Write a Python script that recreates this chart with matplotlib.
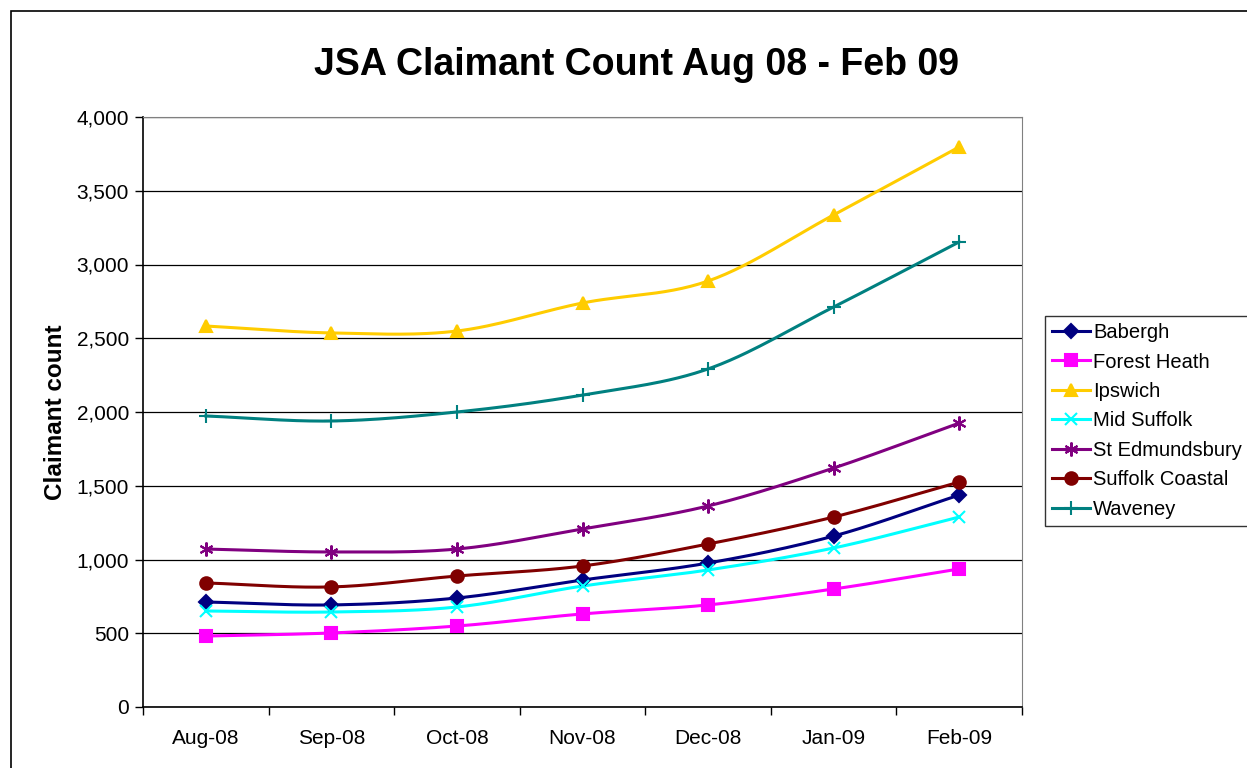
import numpy as np
import matplotlib
matplotlib.use("Agg")
import matplotlib.pyplot as plt
from matplotlib.patches import Rectangle

months = ["Aug-08", "Sep-08", "Oct-08", "Nov-08", "Dec-08", "Jan-09", "Feb-09"]

babergh = [712, 692, 739, 861, 976, 1159, 1437]
forest_heath = [481, 502, 549, 631, 692, 800, 936]
ipswich = [2583, 2536, 2549, 2739, 2888, 3336, 3797]
mid_suffolk = [651, 644, 678, 820, 929, 1078, 1288]
st_edmundsbury = [1071, 1051, 1071, 1207, 1363, 1620, 1925]
suffolk_coastal = [841, 814, 888, 956, 1105, 1288, 1525]
waveney = [1973, 1939, 2000, 2115, 2292, 2712, 3153]

series = [
    ("Babergh", babergh, "#000080", "D", 7),
    ("Forest Heath", forest_heath, "#FF00FF", "s", 9),
    ("Ipswich", ipswich, "#FFCC00", "^", 9),
    ("Mid Suffolk", mid_suffolk, "#00FFFF", "x", 9),
    ("St Edmundsbury", st_edmundsbury, "#800080", (6, 2, 0), 10),
    ("Suffolk Coastal", suffolk_coastal, "#800000", "o", 9),
    ("Waveney", waveney, "#008080", "+", 10),
]


def smooth(x, y, n=30):
    # Catmull-Rom style smoothing, similar to Excel's smoothed lines
    x = np.asarray(x, float)
    y = np.asarray(y, float)
    px = np.concatenate([[2 * x[0] - x[1]], x, [2 * x[-1] - x[-2]]])
    py = np.concatenate([[2 * y[0] - y[1]], y, [2 * y[-1] - y[-2]]])
    xs, ys = [], []
    t = np.linspace(0, 1, n)
    for i in range(1, len(px) - 2):
        p0, p1, p2, p3 = (np.array([px[j], py[j]]) for j in range(i - 1, i + 3))
        c1 = p1 + (p2 - p0) / 6
        c2 = p2 - (p3 - p1) / 6
        b = ((1 - t) ** 3)[:, None] * p1 + (3 * (1 - t) ** 2 * t)[:, None] * c1 \
            + (3 * (1 - t) * t ** 2)[:, None] * c2 + (t ** 3)[:, None] * p2
        xs.extend(b[:, 0])
        ys.extend(b[:, 1])
    return np.array(xs), np.array(ys)


plt.rcParams['font.family'] = ['Liberation Sans', 'DejaVu Sans']
fig = plt.figure(figsize=(12.47, 7.68), dpi=100)

# outer chart frame
fig.patches.append(Rectangle((11 / 1247, -0.05), 1.2, 1 - 11 / 768 + 0.05,
                             transform=fig.transFigure, fill=False,
                             edgecolor="black", linewidth=1.2))

ax = fig.add_axes([143 / 1247, 1 - 707 / 768, 879 / 1247, 590 / 768])
xpos = np.arange(len(months)) + 0.5

handles = []
for name, vals, color, marker, ms in series:
    sx, sy = smooth(xpos, vals)
    ax.plot(sx, sy, color=color, linewidth=2.2, zorder=3)
    ax.plot(xpos, vals, linestyle="none", marker=marker, markersize=ms,
            color=color, markeredgecolor=color, markeredgewidth=1.5, zorder=4)
    h, = ax.plot([], [], color=color, linewidth=2.2, marker=marker, markersize=ms,
                 markeredgecolor=color, markeredgewidth=1.5)
    h.set_label(name)
    handles.append(h)

ax.set_xlim(0, 7)
ax.set_ylim(0, 4000)
ax.set_yticks(np.arange(0, 4001, 500))
ax.set_yticklabels([f"{v:,}" for v in range(0, 4001, 500)], fontsize=15)
ax.yaxis.grid(True, color="black", linewidth=0.9)
ax.set_axisbelow(True)

ax.set_xticks(np.arange(0, 8))
ax.set_xticklabels([])
ax.set_xticks(xpos, minor=True)
ax.set_xticklabels(months, minor=True, fontsize=15)
ax.tick_params(axis="x", which="major", length=6, width=1, direction="out")
ax.tick_params(axis="x", which="minor", length=0, pad=16)
ax.tick_params(axis="y", length=6, width=1, direction="out", pad=4)

for s in ("top", "right"):
    ax.spines[s].set_color("#808080")
for s in ("left", "bottom"):
    ax.spines[s].set_color("black")
    ax.spines[s].set_linewidth(1.2)

ax.set_ylabel("Claimant count", fontsize=17.5, fontweight="bold", labelpad=7)
fig.text(636 / 1247, 1 - 65 / 768, "JSA Claimant Count Aug 08 - Feb 09",
         ha="center", va="center", fontsize=27, fontweight="bold")

fig.legend(handles=handles, loc="upper left", bbox_to_anchor=(1045 / 1247, 1 - 316 / 768),
           fontsize=14.5, frameon=True, fancybox=False, edgecolor="black",
           handlelength=1.9, handletextpad=0.15, borderpad=0.35, labelspacing=0.52,
           borderaxespad=0)

fig.savefig("out.png", dpi=100)
